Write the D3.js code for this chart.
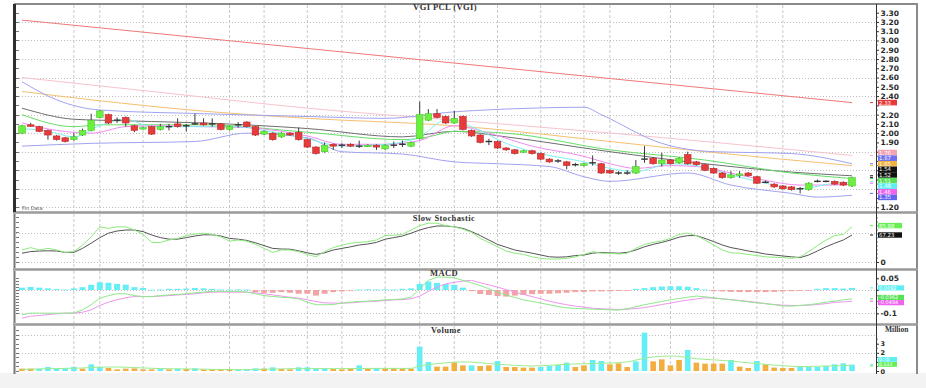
<!DOCTYPE html>
<html><head><meta charset="utf-8">
<script src="https://cdn.jsdelivr.net/npm/d3@7"></script>
<style>html,body{margin:0;padding:0;background:#fff;}svg{display:block;}</style>
</head><body><div id="chart"></div>
<script>
// ---------- DATA ----------
const opens=[2.00,2.09,2.07,2.03,1.97,1.95,1.93,1.98,2.03,2.17,
2.20,2.14,2.17,2.08,2.05,2.07,2.04,2.07,2.10,2.08,
2.10,2.11,2.10,2.10,2.04,2.09,2.12,2.07,1.99,2.00,
1.96,2.00,2.01,1.93,1.85,1.80,1.88,1.87,1.88,1.86,
1.86,1.87,1.83,1.87,1.88,1.86,1.94,2.14,2.21,2.18,
2.11,2.18,2.03,1.98,1.91,1.91,1.84,1.82,1.80,1.81,
1.78,1.72,1.70,1.69,1.66,1.65,1.68,1.67,1.60,1.57,
1.57,1.57,1.72,1.73,1.67,1.71,1.68,1.77,1.69,1.66,
1.62,1.57,1.52,1.55,1.57,1.53,1.47,1.45,1.43,1.42,
1.40,1.39,1.48,1.48,1.48,1.47,1.43];
const closes=[2.08,2.08,2.02,1.98,1.93,1.91,1.96,2.03,2.14,2.24,
2.11,2.14,2.11,2.03,2.06,1.99,2.07,2.07,2.07,2.08,
2.10,2.09,2.10,2.04,2.07,2.09,2.07,1.98,2.02,1.93,
2.00,1.98,1.93,1.85,1.78,1.87,1.86,1.87,1.86,1.86,
1.87,1.85,1.87,1.87,1.88,1.90,2.20,2.21,2.17,2.11,
2.16,2.04,1.97,1.90,1.91,1.84,1.82,1.78,1.81,1.78,
1.72,1.69,1.70,1.65,1.66,1.67,1.68,1.57,1.57,1.57,
1.57,1.64,1.72,1.67,1.71,1.67,1.73,1.67,1.66,1.60,
1.57,1.52,1.55,1.56,1.54,1.46,1.47,1.42,1.40,1.39,
1.40,1.46,1.48,1.48,1.45,1.44,1.52];
const highs=[2.09,2.11,2.08,2.04,1.98,1.96,2.00,2.05,2.21,2.25,
2.21,2.17,2.18,2.09,2.07,2.08,2.10,2.10,2.16,2.10,
2.21,2.16,2.16,2.11,2.08,2.12,2.13,2.08,2.03,2.01,
2.01,2.01,2.06,1.94,1.86,1.90,1.89,1.89,1.89,1.92,
1.88,1.88,1.88,1.91,1.92,1.91,2.34,2.26,2.26,2.19,
2.24,2.19,2.04,1.99,1.94,1.92,1.85,1.83,1.82,1.82,
1.79,1.73,1.72,1.70,1.68,1.68,1.76,1.68,1.61,1.59,
1.60,1.71,1.86,1.74,1.79,1.72,1.74,1.80,1.70,1.67,
1.63,1.58,1.59,1.59,1.58,1.54,1.49,1.46,1.44,1.43,
1.42,1.47,1.50,1.49,1.49,1.48,1.53];
const lows=[1.99,2.07,2.01,1.93,1.92,1.90,1.92,1.97,2.02,2.16,
2.10,2.11,2.07,2.01,2.04,1.98,2.03,2.03,2.06,2.02,
2.09,2.08,2.07,2.03,2.03,2.06,2.06,1.97,1.98,1.92,
1.95,1.97,1.92,1.84,1.77,1.79,1.82,1.84,1.85,1.84,
1.85,1.82,1.82,1.84,1.85,1.85,1.93,2.13,2.16,2.10,
2.10,2.03,1.96,1.89,1.87,1.83,1.81,1.77,1.79,1.77,
1.71,1.68,1.68,1.61,1.64,1.64,1.65,1.56,1.56,1.55,
1.55,1.56,1.68,1.66,1.64,1.66,1.67,1.66,1.65,1.59,
1.56,1.51,1.51,1.52,1.53,1.45,1.46,1.41,1.39,1.38,
1.35,1.38,1.47,1.47,1.44,1.43,1.42];
// overlay lines on the price panel: [candle index, price]
const trendLine=[[0,3.22],[96,2.33]];
const maPink=[[0,2.60],[17,2.43],[33,2.27],[50,2.14],[67,2.01],[96,1.76]];
const maOrange=[[0,2.45],[8,2.36],[22,2.23],[33,2.16],[50,2.08],[68,1.91],[79,1.80],[96,1.65]];
const bandUpper=[[0,2.555],[4,2.36],[9,2.25],[21,2.21],[33,2.18],[42,2.16],[50,2.23],[59,2.27],[65,2.28],[67,2.20],[74,1.89],[80,1.80],[85,1.79],[89,1.78],[96,1.67]];
const bandLower=[[0,1.86],[8,1.89],[20,1.91],[26,2.00],[33,1.95],[37,1.80],[44,1.775],[50,1.69],[55,1.67],[61,1.64],[65,1.53],[68,1.48],[77,1.57],[82,1.44],[89,1.35],[92,1.31],[96,1.33]];
const maBlack=[[0,2.27],[6,2.15],[9,2.14],[21,2.11],[33,2.05],[44,1.96],[50,2.02],[56,1.96],[68,1.80],[79,1.67],[89,1.58],[96,1.54]];
const maGreen=[[0,2.20],[6,2.07],[9,2.09],[21,2.09],[33,2.01],[44,1.93],[47,1.96],[50,2.02],[56,2.00],[68,1.82],[79,1.71],[89,1.57],[96,1.51]];
const maCyan=[[0,2.05],[3,2.02],[6,1.96],[9,2.08],[12,2.15],[15,2.07],[20,2.07],[25,2.07],[28,2.03],[33,1.94],[37,1.86],[42,1.88],[46,1.96],[49,2.14],[52,2.07],[56,1.89],[59,1.80],[65,1.69],[68,1.62],[71,1.585],[75,1.67],[78,1.65],[82,1.55],[86,1.46],[90,1.40],[94,1.46],[96,1.47]];
const maMagenta=[[0,2.11],[4,2.03],[8,2.00],[12,2.07],[16,2.08],[21,2.07],[26,2.06],[30,2.02],[33,1.97],[37,1.88],[42,1.88],[46,1.92],[50,2.08],[54,2.00],[59,1.86],[65,1.75],[68,1.67],[71,1.62],[75,1.65],[78,1.64],[82,1.57],[86,1.49],[90,1.44],[94,1.44],[96,1.45]];
const priceLabels=[["2.33","#e83a3a"],["1.76","#f4a3b3"],["1.67","#6f6ff2"],["1.65","#f2b23e"],["1.54","#111111"],["1.52","#111111"],["1.51","#55e055"],["1.48","#5eeef2"],["1.46","#f062f0"],["1.35","#6464f0"]];
const priceTicks=d3.range(12,34).map(d=>d/10);
const priceGrid=d3.range(6,17).map(d=>d/5);
const gridIdx=[6,9,14,19,24,28,33,37,42,46,50,55,60,65,68,75,80,85,88];

const stochK=[30,36,30,34,30,24,26,42,63,88,84,88,88,80,69,49,49,55,59,66,
70,72,69,63,52,55,52,44,34,24,30,30,26,19,13,26,36,42,47,49,
51,55,66,67,69,80,91,97,97,91,88,82,
74,59,49,38,27.5,22,19,13,9,7.5,7.5,9,13,19,26,22,22,20,22,34,
44,49,52.5,59,69,72,66,55,42.5,30,23,22,19,16,13,12,11,9,13,26,
41,55,66,69,88];
const stochD=[22,26,27.5,28,27.5,24,24,34,47,61,72,77.5,80,80,76,67.5,61,57,57,61,
65,68,68,65,59,57,54,48,41,34,32.5,32,28,23,19,23,30,34,38,42.5,
45,49,57,61,65,72,80,86,90,90,88,84,
76,66,55,44,37,30,26,22,17.5,13,12,13,16,17.5,22,24,23,22,24,30,
38,44,49,55,62,66,66,59,51,42.5,36,32,27.5,24,20,17.5,15,13,11,17.5,
27.5,38,47,55,67.5];
const stochTicks=[0];
const stochLabels=[["85.88","#66ee55",91],["67.23","#111111",67.5]];

const macdLine=[-0.106,-0.099,-0.099,-0.099,-0.099,-0.099,-0.098,-0.085,-0.063,-0.035,
-0.024,-0.016,-0.016,-0.024,-0.028,-0.028,-0.024,-0.021,-0.019,-0.016,
-0.012,-0.009,-0.006,-0.006,-0.006,-0.006,-0.009,-0.016,-0.024,-0.028,
-0.031,-0.033,-0.038,-0.052,-0.063,-0.063,-0.062,-0.056,-0.052,-0.049,
-0.048,-0.045,-0.042,-0.041,-0.038,-0.031,0.005,0.041,0.055,0.055,0.052,0.041,
0.031,0.019,0.005,-0.009,-0.021,-0.032,-0.042,-0.049,-0.056,-0.063,
-0.071,-0.076,-0.079,-0.080,-0.082,-0.083,-0.085,-0.086,-0.080,-0.072,
-0.063,-0.056,-0.049,-0.042,-0.036,-0.031,-0.026,-0.029,-0.033,-0.038,
-0.042,-0.046,-0.051,-0.055,-0.059,-0.063,-0.068,-0.069,-0.066,-0.063,
-0.058,-0.052,-0.048,-0.042,-0.038];
const signalLine=[-0.120,-0.112,-0.109,-0.105,-0.102,-0.099,-0.099,-0.095,-0.085,-0.066,
-0.052,-0.042,-0.033,-0.028,-0.028,-0.028,-0.026,-0.024,-0.021,-0.019,
-0.016,-0.012,-0.009,-0.009,-0.009,-0.009,-0.009,-0.012,-0.016,-0.021,
-0.026,-0.031,-0.035,-0.042,-0.049,-0.055,-0.056,-0.056,-0.055,-0.052,
-0.049,-0.048,-0.045,-0.042,-0.041,-0.038,-0.026,-0.006,0.012,0.026,0.033,0.038,
0.041,0.031,0.022,0.012,0.002,-0.009,-0.019,-0.028,-0.038,-0.048,
-0.056,-0.063,-0.069,-0.073,-0.078,-0.080,-0.082,-0.083,-0.082,-0.079,
-0.075,-0.069,-0.062,-0.056,-0.049,-0.043,-0.038,-0.033,-0.035,-0.038,
-0.041,-0.045,-0.049,-0.053,-0.058,-0.062,-0.065,-0.066,-0.066,-0.065,
-0.062,-0.058,-0.053,-0.051,-0.048];
const macdHist=[0.010,0.013,0.010,0.007,0.004,0.002,0.007,0.012,0.022,0.033,
0.031,0.026,0.023,0.012,0.009,0.001,0.002,0.005,0.005,0.006,
0.009,0.007,0.005,0.002,0.002,0.003,0.002,-0.009,-0.012,-0.012,
-0.009,-0.012,-0.016,-0.016,-0.024,-0.016,-0.009,-0.006,-0.003,0.002,
0.003,0.002,0.003,0.002,0.005,0.007,0.026,0.036,0.030,0.026,0.022,0.010,
-0.005,-0.017,-0.021,-0.026,-0.028,-0.024,-0.021,-0.018,-0.016,-0.016,
-0.014,-0.012,-0.009,-0.008,-0.006,-0.006,-0.005,-0.004,-0.002,0.005,
0.008,0.012,0.015,0.016,0.016,0.014,0.008,0.002,-0.005,-0.006,
-0.008,-0.009,-0.009,-0.009,-0.009,-0.008,-0.006,-0.005,-0.004,-0.002,
0.005,0.008,0.008,0.006,0.009];
const macdTicks=[0.05,0,-0.1];
const macdLabels=[["0.0092","#5eeef2",0.009],["-0.0362","#55e055",-0.038],["-0.0484","#f062f0",-0.048]];

const volumes=[0.26,0.26,0.26,0.44,0.33,0.33,0.44,0.26,0.73,0.44,
0.33,0.18,0.26,0.29,0.18,0.18,0.26,0.18,0.26,0.22,
0.29,0.18,0.18,0.18,0.22,0.15,0.18,0.29,0.26,0.40,
0.22,0.18,0.40,0.40,0.29,0.33,0.22,0.18,0.26,0.62,
0.26,0.33,0.29,0.33,0.29,0.26,2.67,0.99,0.48,0.48,
0.92,0.62,0.62,0.55,0.62,1.10,0.44,0.44,0.37,0.37,
0.44,0.55,0.66,0.92,0.44,0.62,1.21,1.10,0.73,0.84,
0.44,1.06,4.21,1.06,1.28,0.62,1.21,2.31,0.92,0.81,
0.81,0.81,1.21,0.48,0.33,1.10,0.73,0.37,0.33,0.33,
0.55,0.44,0.44,0.55,0.73,0.84,0.70];
const volumeDir=("dduuuuuduu"+"ddddddudud"+"udddduuudu"+"dduuuudddu"+"dudddduudd"+
"dduddudddd"+"uuuudduudd"+"duuddddudd"+"dduddudddd"+"uuuuuuu").split("");
const volumeMA=[0.18,0.20,0.22,0.25,0.27,0.29,0.31,0.33,0.38,0.42,
0.44,0.44,0.42,0.38,0.34,0.30,0.27,0.25,0.23,0.22,
0.21,0.20,0.18,0.17,0.16,0.15,0.16,0.17,0.19,0.21,
0.23,0.25,0.26,0.26,0.26,0.26,0.26,0.26,0.27,0.28,
0.28,0.29,0.29,0.29,0.28,0.29,0.55,0.70,0.80,0.90,
0.97,1.00,0.97,0.90,0.82,0.75,0.68,0.62,0.58,0.55,
0.58,0.62,0.68,0.74,0.78,0.80,0.82,0.85,0.88,0.92,
1.00,1.20,1.40,1.55,1.62,1.65,1.60,1.50,1.35,1.28,
1.22,1.16,1.10,1.00,0.90,0.82,0.73,0.65,0.58,0.52,
0.48,0.50,0.52,0.55,0.57,0.60,0.62];
const volTicks=[0,1,2,3];
const volLabels=[["0.70","#5eeef2",0.70],["0.533","#66ee55",0.55]];

// ---------- DRAWING ----------
const W=926,H=388;
const svg=d3.select("#chart").append("svg").attr("width",W).attr("height",H);
const x=d3.scaleLinear().domain([0,96]).range([22,852]);
const yP=d3.scaleLinear().domain([1.20,3.30]).range([207.3,12.7]);
const yS=d3.scaleLinear().domain([0,100]).range([262,222]);
const yM=d3.scaleLinear().domain([-0.1,0.05]).range([313.4,278.3]);
const yV=d3.scaleLinear().domain([0,4]).range([371,334.6]);
const L=16,R=876;
const panels=[{t:5,b:211},{t:214,b:268},{t:271,b:323},{t:326,b:372}];
const fontAx="'DejaVu Sans',sans-serif";

svg.append("rect").attr("x",0).attr("y",373).attr("width",W).attr("height",H-373).attr("fill","#f3f3f3");

// vertical dashed grid
panels.forEach(p=>{
  svg.append("g").selectAll("line").data(gridIdx).join("line")
    .attr("x1",d=>x(d)).attr("x2",d=>x(d)).attr("y1",p.t).attr("y2",p.b)
    .attr("stroke","#c9c9c9").attr("stroke-dasharray","3,2").attr("stroke-width",1);
});
function hgrid(vals,scale){
  svg.append("g").selectAll("line").data(vals).join("line")
    .attr("x1",L).attr("x2",R).attr("y1",d=>Math.round(scale(d))+0.5).attr("y2",d=>Math.round(scale(d))+0.5)
    .attr("stroke","#bdbdbd").attr("stroke-dasharray","1,2");
}
hgrid(priceGrid,yP); hgrid([0,72.5],yS); hgrid([0,-0.1],yM); hgrid([2,4],yV);

// price overlays
const lineP=d3.line().x(d=>x(d[0])).y(d=>yP(d[1])).curve(d3.curveMonotoneX);
[[trendLine,"#f07878"],[maPink,"#f8c3cc"],[maOrange,"#f6c070"],[bandUpper,"#a2a2f2"],[bandLower,"#a2a2f2"],
 [maBlack,"#6e6e6e"],[maGreen,"#66dd66"],[maMagenta,"#f08cf0"],[maCyan,"#7ef0f0"]].forEach(([d,c])=>{
  svg.append("path").attr("d",lineP(d)).attr("fill","none").attr("stroke",c).attr("stroke-width",1);
});

// candles
const cg=svg.append("g");
const bw=6.6;
opens.forEach((o,i)=>{
  const c=closes[i], cx=x(i);
  cg.append("line").attr("x1",cx).attr("x2",cx).attr("y1",yP(highs[i])).attr("y2",yP(lows[i]))
    .attr("stroke","#3a3a3a").attr("stroke-width",1);
  if(Math.abs(c-o)<0.005){
    cg.append("line").attr("x1",cx-bw/2).attr("x2",cx+bw/2).attr("y1",yP(c)).attr("y2",yP(c))
      .attr("stroke","#333").attr("stroke-width",1.4);
  } else {
    const up=c>o;
    cg.append("rect").attr("x",cx-bw/2).attr("width",bw)
      .attr("y",yP(Math.max(o,c))).attr("height",Math.max(1.5,yP(Math.min(o,c))-yP(Math.max(o,c))))
      .attr("fill",up?"#6cf040":"#e63b3b").attr("stroke",up?"#4cc830":"#c02828").attr("stroke-width",0.6);
  }
});

// stochastic
const lineS=d3.line().x((d,i)=>x(i)).y(d=>yS(d));
svg.append("path").attr("d",lineS(stochD)).attr("fill","none").attr("stroke","#555").attr("stroke-width",1);
svg.append("path").attr("d",lineS(stochK)).attr("fill","none").attr("stroke","#8ceb7c").attr("stroke-width",1);

// MACD
const hg=svg.append("g");
macdHist.forEach((v,i)=>{
  const y0=yM(0), y1=yM(v);
  hg.append("rect").attr("x",x(i)-3).attr("width",6).attr("y",Math.min(y0,y1)).attr("height",Math.max(0.8,Math.abs(y1-y0)))
    .attr("fill",v>=0?"#66eef6":"#f2a4a4");
});
const lineM=d3.line().x((d,i)=>x(i)).y(d=>yM(d));
svg.append("path").attr("d",lineM(signalLine)).attr("fill","none").attr("stroke","#ee96ee").attr("stroke-width",1);
svg.append("path").attr("d",lineM(macdLine)).attr("fill","none").attr("stroke","#8ee88a").attr("stroke-width",1);

// volume
const vg=svg.append("g");
volumes.forEach((v,i)=>{
  vg.append("rect").attr("x",x(i)-2.8).attr("width",5.6).attr("y",yV(v)).attr("height",yV(0)-yV(v))
    .attr("fill",volumeDir[i]==="u"?"#66eef6":"#f2ae40");
});
const lineV=d3.line().x((d,i)=>x(i)).y(d=>yV(d)).curve(d3.curveMonotoneX);
svg.append("path").attr("d",lineV(volumeMA)).attr("fill","none").attr("stroke","#9ded8e").attr("stroke-width",1);

// frames
const fr=svg.append("g");
fr.append("line").attr("x1",14).attr("x2",918).attr("y1",4).attr("y2",4).attr("stroke","#8a8a8a").attr("stroke-width",2);
fr.append("line").attr("x1",917).attr("x2",917).attr("y1",3).attr("y2",374).attr("stroke","#8a8a8a").attr("stroke-width",2);
[212.5,269.5,324.5].forEach(y=>fr.append("line").attr("x1",13).attr("x2",918).attr("y1",y).attr("y2",y).attr("stroke","#9a9a9a").attr("stroke-width",2.5));
fr.append("line").attr("x1",14.5).attr("x2",14.5).attr("y1",4).attr("y2",212).attr("stroke","#2e2e2e").attr("stroke-width",3);
[[214,268],[271,323],[326,374]].forEach(([a,b])=>fr.append("line").attr("x1",14.5).attr("x2",14.5).attr("y1",a).attr("y2",b).attr("stroke","#777").attr("stroke-width",2));
fr.append("line").attr("x1",R+0.5).attr("x2",R+0.5).attr("y1",4).attr("y2",374).attr("stroke","#333").attr("stroke-width",1);

// left minor ticks
function leftTicks(scale,vals){
  svg.append("g").selectAll("line").data(vals).join("line")
    .attr("x1",16).attr("x2",19).attr("y1",d=>Math.round(scale(d))+0.5).attr("y2",d=>Math.round(scale(d))+0.5)
    .attr("stroke","#555").attr("stroke-width",0.8);
}
leftTicks(yP,priceTicks);
leftTicks(yS,d3.range(0,121,12.5).filter(v=>yS(v)>215));
leftTicks(yM,d3.range(-0.1,0.06,0.0125).filter(v=>yM(v)>272));
leftTicks(yV,d3.range(0,5,0.5).filter(v=>yV(v)>327));

// stacked value labels
function stack(items,gap,maxY){
  items.sort((a,b)=>a.y-b.y);
  const cl=[];
  items.forEach(it=>{
    cl.push({list:[it],sum:it.y});
    while(cl.length>1){
      const a=cl[cl.length-2],b=cl[cl.length-1];
      const aS=a.sum/a.list.length-(a.list.length-1)*gap/2, aE=aS+(a.list.length-1)*gap;
      const bS=b.sum/b.list.length-(b.list.length-1)*gap/2;
      if(bS-aE<gap){a.list=a.list.concat(b.list);a.sum+=b.sum;cl.pop();} else break;
    }
  });
  cl.forEach(c=>{const s=c.sum/c.list.length-(c.list.length-1)*gap/2;c.list.forEach((it,k)=>it.ly=s+k*gap);});
  if(maxY!==undefined){
    const over=items[items.length-1].ly-maxY;
    if(over>0) items.forEach(it=>it.ly-=over);
  }
  return items;
}
function stackIn(arr,scale){return arr.map(([t,c,v])=>({t,c,y:scale(v)}));}
const mainItems=stack(priceLabels.map(([t,c])=>({t,c,y:yP(+t)})),5.6);
const stochItems=stack(stackIn(stochLabels,yS),8);
const macdItems=stack(stackIn(macdLabels,yM),5.2);
const volItems=stack(stackIn(volLabels,yV),5,364.4);

// right axes (tick labels hidden where a value label covers them)
function rightAxis(scale,vals,fmt,minor,items,h,keep){
  const shown=vals.filter(v=>keep&&keep.includes(v)||!items.some(it=>Math.abs(scale(v)-it.ly)<h/2+3.6));
  const g=svg.append("g").attr("transform",`translate(${R},0)`)
    .call(d3.axisRight(scale).tickValues(vals).tickSize(3).tickPadding(1.5).tickFormat(fmt));
  g.select(".domain").remove();
  g.selectAll("line").attr("stroke","#333");
  g.selectAll(".tick").filter(d=>!shown.includes(d)).select("text").remove();
  g.selectAll("text").attr("font-family",fontAx).attr("font-size","7.5px").attr("font-weight","bold").attr("fill","#2a2a2a");
  svg.append("g").selectAll("line").data(minor).join("line")
    .attr("x1",R).attr("x2",R+2).attr("y1",d=>scale(d)).attr("y2",d=>scale(d)).attr("stroke","#444").attr("stroke-width",0.7);
  return g;
}
rightAxis(yP,priceTicks,d3.format(".2f"),d3.range(1.25,3.30,0.1),mainItems,5.6);
rightAxis(yS,stochTicks,d3.format("d"),d3.range(10,121,10).filter(v=>yS(v)>216),stochItems,5.2);
rightAxis(yM,macdTicks,d=>String(d),d3.range(-0.1,0.06,0.025),macdItems,5);
rightAxis(yV,volTicks,d3.format("d"),[0.5,1.5,2.5,3.5],volItems,4.8,[0,2])
  .selectAll("text").attr("font-size","6.5px");

function drawLabels(items,w,h,fs){
  const g=svg.append("g");
  items.forEach(it=>{
    g.append("line").attr("x1",R-6).attr("x2",R-3).attr("y1",it.y).attr("y2",it.y).attr("stroke",it.c).attr("stroke-width",1);
    g.append("rect").attr("x",R+2).attr("y",it.ly-h/2).attr("width",w).attr("height",h).attr("fill",it.c);
    g.append("text").attr("x",R+3).attr("y",it.ly+fs*0.36).text(it.t)
      .attr("font-family",fontAx).attr("font-size",fs+"px").attr("fill","#fff");
  });
}
drawLabels(mainItems,19,5.6,5.4);
drawLabels(stochItems,24,5.4,5.4);
drawLabels(macdItems,26,5.2,5);
drawLabels(volItems,19,4.8,4.6);

// titles
const fontT="'Liberation Serif',serif";
function title(t,cx,y,size){
  svg.append("text").attr("x",cx).attr("y",y).attr("text-anchor","middle").text(t)
    .attr("font-family",fontT).attr("font-weight","bold").attr("font-size",size+"px").attr("fill","#333").attr("letter-spacing","0.4");
}
title("VGI PCL (VGI)",445,10,8.5);
title("Slow Stochastic",444,221,8.5);
title("MACD",444,276,8.5);
title("Volume",446,333,8.5);
svg.append("text").attr("x",885).attr("y",332).text("Million").attr("font-family",fontT).attr("font-weight","bold").attr("font-size","7.5px").attr("fill","#333");
svg.append("text").attr("x",22).attr("y",210).text("Fin Data").attr("font-family",fontAx).attr("font-size","5px").attr("fill","#555");
</script></body></html>
